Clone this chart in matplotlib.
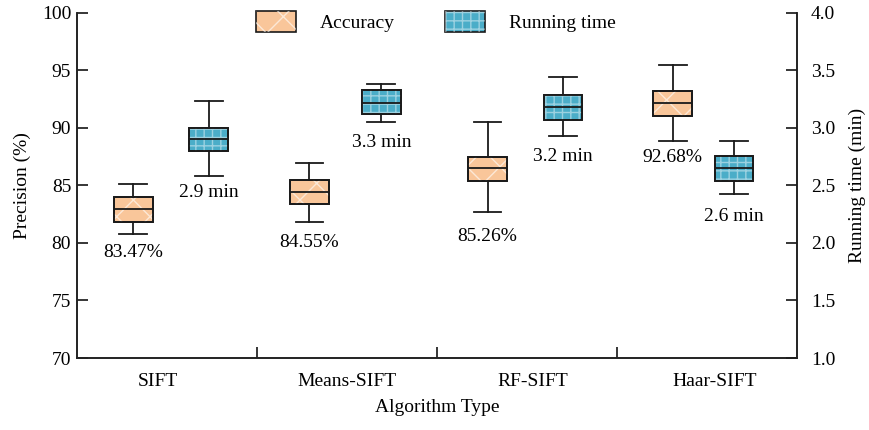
import numpy as np
import matplotlib.pyplot as plt
import matplotlib.patches as mpatches
from matplotlib.legend_handler import HandlerTuple

plt.rcParams['font.family'] = ['Liberation Serif', 'DejaVu Serif']
plt.rcParams['font.size'] = 14
plt.rcParams['hatch.linewidth'] = 1.0

algorithms = ['SIFT', 'Means-SIFT', 'RF-SIFT', 'Haar-SIFT']
label_pos = [0.45, 1.5, 2.53, 3.54]
acc_pos = [0.31, 1.29, 2.28, 3.31]
run_pos = [0.73, 1.69, 2.70, 3.65]

# precision (%) box statistics: lower whisker, q1, median, q3, upper whisker
acc_lo = [80.75, 81.80, 82.67, 88.85]
acc_q1 = [81.79, 83.36, 85.36, 91.00]
acc_med = [82.92, 84.40, 86.49, 92.13]
acc_q3 = [83.97, 85.44, 87.47, 93.17]
acc_hi = [85.14, 86.92, 90.48, 95.43]
acc_text = ['83.47%', '84.55%', '85.26%', '92.68%']
acc_text_y = [79.2, 80.0, 80.55, 87.45]

# running time (min)
run_lo = [2.58, 3.05, 2.93, 2.43]
run_q1 = [2.80, 3.12, 3.07, 2.54]
run_med = [2.90, 3.22, 3.18, 2.65]
run_q3 = [3.00, 3.33, 3.29, 2.76]
run_hi = [3.23, 3.38, 3.44, 2.89]
run_text = ['2.9 min', '3.3 min', '3.2 min', '2.6 min']
run_text_y = [2.44, 2.87, 2.75, 2.23]

c_acc = '#F9C69A'
c_run = '#4BADC8'
edge = '#1a1a1a'
h_acc_col = (1, 1, 1, 0.6)
h_run_col = (1, 1, 1, 0.45)
lw = 1.3


def stats(lo, q1, med, q3, hi):
    return [dict(whislo=a, q1=b, med=c, q3=d, whishi=e, fliers=[])
            for a, b, c, d, e in zip(lo, q1, med, q3, hi)]


def draw(ax, st, pos, color, hatch, hcol):
    bp = ax.bxp(st, positions=pos, widths=0.215, capwidths=0.155,
                patch_artist=True, showfliers=False,
                boxprops=dict(facecolor=color, edgecolor=edge, linewidth=lw),
                medianprops=dict(color=edge, linewidth=lw, zorder=4),
                whiskerprops=dict(color=edge, linewidth=lw),
                capprops=dict(color=edge, linewidth=lw), manage_ticks=False)
    for b in bp['boxes']:
        ax.add_patch(mpatches.PathPatch(b.get_path(), facecolor='none', edgecolor=hcol,
                                        lw=0, hatch=hatch, zorder=2.5))
        ax.add_patch(mpatches.PathPatch(b.get_path(), facecolor='none', edgecolor=edge,
                                        lw=lw, zorder=3))


fig = plt.figure(figsize=(8.7, 4.3), dpi=100)
ax = fig.add_axes([0.089, 0.1674, 0.827, 0.8026])
ax2 = ax.twinx()

draw(ax, stats(acc_lo, acc_q1, acc_med, acc_q3, acc_hi), acc_pos, c_acc, 'x', h_acc_col)
draw(ax2, stats(run_lo, run_q1, run_med, run_q3, run_hi), run_pos, c_run, '++', h_run_col)

for x, y, t in zip(acc_pos, acc_text_y, acc_text):
    ax.text(x, y, t, ha='center', va='center', fontsize=14)
for x, y, t in zip(run_pos, run_text_y, run_text):
    ax2.text(x, y, t, ha='center', va='center', fontsize=14)

ax.set_xlim(0, 4)
ax.set_ylim(70, 100)
ax2.set_ylim(1.0, 4.0)
ax.set_yticks(np.arange(70, 101, 5))
ax2.set_yticks(np.arange(1.0, 4.01, 0.5))
ax2.set_yticklabels(['%.1f' % v for v in np.arange(1.0, 4.01, 0.5)])

ax.set_xticks([1, 2, 3])
ax.set_xticklabels(['', '', ''])
ax.set_xticks(label_pos, algorithms, minor=True)
ax.tick_params(axis='x', which='major', direction='in', length=8, width=1.1)
ax.tick_params(axis='x', which='minor', length=0, pad=11, labelsize=14)
ax.tick_params(axis='y', direction='in', length=8, width=1.1, pad=4.5, labelsize=14)
ax2.tick_params(axis='y', direction='in', length=8, width=1.1, pad=10, labelsize=14)

for a in (ax, ax2):
    a.spines['top'].set_visible(False)
    for s in a.spines.values():
        s.set_linewidth(1.2)
        s.set_color('#222222')

ax.set_xlabel('Algorithm Type', fontsize=14, labelpad=6)
ax.set_ylabel('Precision (%)', fontsize=14, labelpad=8)
ax2.set_ylabel('Running time (min)', fontsize=14, labelpad=10)

h_acc = (mpatches.Patch(facecolor=c_acc, edgecolor=edge, lw=1.2),
         mpatches.Patch(facecolor='none', edgecolor=h_acc_col, lw=0, hatch='x'))
h_run = (mpatches.Patch(facecolor=c_run, edgecolor=edge, lw=1.2),
         mpatches.Patch(facecolor='none', edgecolor=h_run_col, lw=0, hatch='++'))
ax.legend([h_acc, h_run], ['Accuracy', 'Running time'], loc='center',
          bbox_to_anchor=(0.498, 0.975), bbox_transform=ax.transAxes, ncol=2,
          frameon=False, handlelength=2.06, handleheight=1.34, handletextpad=1.2,
          columnspacing=2.6, fontsize=14,
          handler_map={tuple: HandlerTuple(ndivide=1, pad=0)})

fig.savefig('out.png', dpi=100)
